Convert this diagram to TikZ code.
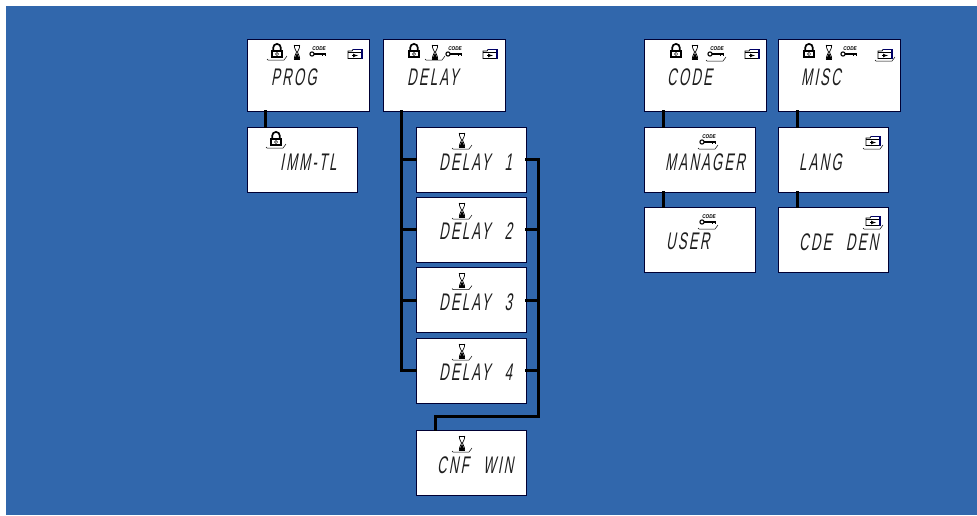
\documentclass[tikz,border=0pt]{standalone}
\usepackage{fontspec}
\usepackage{color}
\newfontfamily\lcdfont[FakeSlant=0.18,FakeStretch=0.55,LetterSpace=9,WordSpace=2.5]{Liberation Sans}
\newfontfamily\tagfont[FakeStretch=0.85]{Liberation Sans}
\definecolor{panelblue}{RGB}{49,103,172}
\definecolor{lcdink}{RGB}{30,30,30}
\tikzset{
	lcdbox/.style={draw=black!80!blue,line width=0.8pt,fill=white,inner sep=0pt,anchor=north west},
	bigbox/.style={lcdbox,minimum width=122pt,minimum height=72pt},
	smallbox/.style={lcdbox,minimum width=110pt,minimum height=65pt},
	lcdtext/.style={anchor=west,inner sep=0pt,text=lcdink,font=\lcdfont\fontsize{24}{24}\selectfont},
	wire/.style={line width=3pt,black,line cap=rect,line join=miter},
	lockicon/.pic={
		\fill[black] (-6,-1) rectangle (6,7);
		\draw[line width=1.7pt] (-3.8,-1) -- (-3.8,-3.3) arc (180:360:3.8) -- (3.8,-1);
		\fill[white] (-3.8,0.6) rectangle (3.8,5.4);
		\draw[line width=0.5pt] (0,3) circle (1.6pt);
	},
	glassicon/.pic={
		\draw[line width=1pt] (-3.4,-7) -- (3.4,-7) (-3.4,7) -- (3.4,7);
		\draw[line width=0.7pt] (-2.7,-7) .. controls (-2.7,-2) and (-0.5,-2) .. (-0.5,0) .. controls (-0.5,2) and (-2.7,3) .. (-2.7,7);
		\draw[line width=0.7pt] (2.7,-7) .. controls (2.7,-2) and (0.5,-2) .. (0.5,0) .. controls (0.5,2) and (2.7,3) .. (2.7,7);
		\fill[black] (0,1) -- (2.7,7) -- (-2.7,7) -- cycle;
	},
	keyicon/.pic={
		\node[inner sep=0pt] (keytag) at (1,-3) {\tagfont\fontsize{5.5}{5.5}\selectfont\bfseries\itshape CODE};
		\draw[line width=1.1pt] (-6,2) circle (2.1pt);
		\draw[line width=1.7pt] (-3.7,2) -- (8,2);
		\draw[line width=1pt] (4.5,2) -- (4.5,4) (7.5,2) -- (7.5,4);
	},
	foldericon/.pic={
		\draw[line width=0.8pt,fill=white] (-7,-3) -- (-3,-3) -- (-2,-4.5) -- (7,-4.5) -- (7,4.5) -- (-7,4.5) -- cycle;
		\draw[line width=0.9pt] (-7,-1.5) -- (7,-1.5);
		\draw[line width=1.2pt,black!60!blue] (-2,-4.5) -- (7,-4.5) -- (7,4.5);
		\draw[line width=0.7pt,-latex] (-3,1.5) -- (3,1.5);
	},
	dipline/.pic={
		\draw[line width=0.5pt] (-10,8) -- (-9,9) -- (7,9) -- (10,5);
	},
}
\begin{document}
\begin{tikzpicture}[x=1pt,y=-1pt]
	\useasboundingbox (0,0) rectangle (977,515);
	\fill[panelblue] (6,6) rectangle (977,515);
	% top row
	\node[bigbox] (prog) at (246.7,38.7) {};
	\node[bigbox] (delay) at (382.7,38.7) {};
	\node[bigbox] (code) at (643.7,38.7) {};
	\node[bigbox] (misc) at (777.7,38.7) {};
	% lower screens
	\node[smallbox] (immtl) at (246.7,126.7) {};
	\node[smallbox] (delayA) at (415.7,126.7) {};
	\node[smallbox] (delayB) at (415.7,196.7) {};
	\node[smallbox] (delayC) at (415.7,267.2) {};
	\node[smallbox] (delayD) at (415.7,337.7) {};
	\node[smallbox] (cnfwin) at (415.7,429.7) {};
	\node[smallbox,minimum width=111pt] (manager) at (643.7,126.7) {};
	\node[smallbox,minimum width=111pt] (user) at (643.7,206.7) {};
	\node[smallbox] (lang) at (777.7,126.7) {};
	\node[smallbox] (cdeden) at (777.7,206.7) {};
	% connectors
	\coordinate (trunk) at ([xshift=19pt]delay.south west);
	\coordinate (busend) at (538,416);
	\draw[wire] ([xshift=19pt]prog.south west) -- ([xshift=19pt]immtl.north west);
	\draw[wire] (trunk) |- (delayD.west);
	\foreach \n in {delayA,delayB,delayC}
		\draw[wire] (trunk |- \n.west) -- (\n.west);
	\draw[wire] (delayA.east) -| (busend) -| ([xshift=20pt]cnfwin.north west);
	\foreach \n in {delayB,delayC,delayD}
		\draw[wire] (\n.east) -- (\n.east -| busend);
	\draw[wire] ([xshift=20pt]code.south west) -- ([xshift=20pt]manager.north west);
	\draw[wire] ([xshift=20pt]manager.south west) -- ([xshift=20pt]user.north west);
	\draw[wire] ([xshift=20pt]misc.south west) -- ([xshift=20pt]lang.north west);
	\draw[wire] ([xshift=20pt]lang.south west) -- ([xshift=20pt]cdeden.north west);
	% screen words
	\node[lcdtext] (progword) at (271,77) {PROG};
	\node[lcdtext] (delayword) at (407,77) {DELAY};
	\node[lcdtext] (codeword) at (667,77) {CODE};
	\node[lcdtext] (miscword) at (801,77) {MISC};
	\node[lcdtext] (immword) at (280,162) {IMM-TL};
	\node[lcdtext] (delayAword) at (439,162) {DELAY 1};
	\node[lcdtext] (delayBword) at (439,231) {DELAY 2};
	\node[lcdtext] (delayCword) at (439,302) {DELAY 3};
	\node[lcdtext] (delayDword) at (439,372) {DELAY 4};
	\node[lcdtext] (cnfword) at (437,465) {CNF WIN};
	\node[lcdtext] (managerword) at (665,162) {MANAGER};
	\node[lcdtext] (userword) at (666,241) {USER};
	\node[lcdtext] (langword) at (799,162) {LANG};
	\node[lcdtext] (cdeword) at (799,242) {CDE DEN};
	% icons of the top row
	\pic at (277,51) {lockicon};
	\pic at (277,51) {dipline};
	\pic at (297,52) {glassicon};
	\pic at (318,52) {keyicon};
	\pic at (355,54) {foldericon};
	\pic at (414,51) {lockicon};
	\pic at (435,52) {glassicon};
	\pic at (435,51) {dipline};
	\pic at (454,52) {keyicon};
	\pic at (490,54) {foldericon};
	\pic at (676,51) {lockicon};
	\pic at (695,52) {glassicon};
	\pic at (716,52) {keyicon};
	\pic at (716,52) {dipline};
	\pic at (752,54) {foldericon};
	\pic at (809,51) {lockicon};
	\pic at (829,52) {glassicon};
	\pic at (849,52) {keyicon};
	\pic at (885,54) {foldericon};
	\pic at (885,52) {dipline};
	% icons of the lower screens
	\pic at (276,139) {lockicon};
	\pic at (276,139) {dipline};
	\foreach \y in {140,210,280.5,351,443} {
		\pic at (462,\y) {glassicon};
		\pic at (462,\y) {dipline};
	}
	\foreach \y in {140,220} {
		\pic at (708,\y) {keyicon};
		\pic at (708,\y) {dipline};
		\pic at (873,\y+1) {foldericon};
		\pic at (873,\y) {dipline};
	}
\end{tikzpicture}
\end{document}
